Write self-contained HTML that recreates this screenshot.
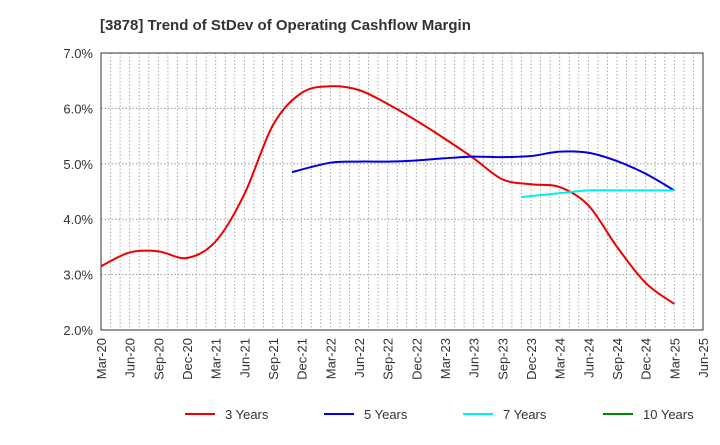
<!DOCTYPE html>
<html><head><meta charset="utf-8"><style>
body{margin:0;background:#fff;font-family:"Liberation Sans",sans-serif}
</style></head><body>
<svg id="c" width="720" height="440" xmlns="http://www.w3.org/2000/svg" font-family="Liberation Sans, sans-serif">
<text x="100" y="30" font-size="15" font-weight="bold" fill="#333">[3878]  Trend of StDev of Operating Cashflow Margin</text>
<g id="grid"></g><g id="axes"></g><g id="series"></g><g id="legend"></g>
</svg>
<script>
const xLabels=["Mar-20","Jun-20","Sep-20","Dec-20","Mar-21","Jun-21","Sep-21","Dec-21","Mar-22","Jun-22","Sep-22","Dec-22","Mar-23","Jun-23","Sep-23","Dec-23","Mar-24","Jun-24","Sep-24","Dec-24","Mar-25","Jun-25"];
const yTicks=[2,3,4,5,6,7];
const m3=[0,3,6,9,12,15,18,21,24,27,30,33,36,39,42,45,48,51,54,57,60];
const s3=[3.15,3.4,3.42,3.3,3.6,4.45,5.7,6.28,6.4,6.33,6.08,5.78,5.45,5.1,4.72,4.63,4.58,4.25,3.5,2.85,2.47];
const m5=[20,24,27,30,33,36,39,42,45,48,51,54,57,60];
const s5=[4.85,5.02,5.04,5.04,5.06,5.1,5.13,5.12,5.14,5.22,5.2,5.05,4.82,4.52];
const m7=[44,48,51,54,57,60];
const s7=[4.4,4.47,4.52,4.52,4.52,4.52];
const m10=[];
const s10=[];
const L=101,R=703,T=53,B=330;
const NS="http://www.w3.org/2000/svg";
const XM=m=>L+(R-L)*m/63, X=i=>XM(i*3), Y=v=>B-(v-2)/5*(B-T);
function mk(t,a,p){const e=document.createElementNS(NS,t);for(const k in a)e.setAttribute(k,a[k]);p.appendChild(e);return e;}
const g=document.getElementById('grid'),ax=document.getElementById('axes'),se=document.getElementById('series'),lg=document.getElementById('legend');
for(let m=1;m<63;m++){const x=XM(m);const l=mk('line',{x1:x,x2:x,y1:T,y2:B,stroke:'#aaa','stroke-dasharray':'1.5,2','stroke-width':1},g);

}
yTicks.forEach(v=>{const l=mk('line',{x1:L,x2:R,y1:Y(v),y2:Y(v),stroke:'#999','stroke-dasharray':'1.5,2'},g);


const t=mk('text',{x:L-8,y:Y(v)+5,'text-anchor':'end','font-size':13,fill:'#333'},ax);t.textContent=v.toFixed(1)+'%';

});
const fr=mk('rect',{x:L,y:T,width:R-L,height:B-T,fill:'none',stroke:'#333','stroke-width':1},ax);


xLabels.forEach((s,i)=>{const t=mk('text',{transform:`translate(${X(i)+5},${B+8}) rotate(-90)`,'text-anchor':'end','font-size':13,fill:'#333'},ax);t.textContent=s;

});
function path(ms,arr){const p=arr.map((v,i)=>[XM(ms[i]),Y(v)]);if(p.length<2)return '';
let d=`M${p[0][0]},${p[0][1]}`;for(let i=0;i<p.length-1;i++){const p0=p[i-1]||p[i],p1=p[i],p2=p[i+1],p3=p[i+2]||p2;
d+=` C${p1[0]+(p2[0]-p0[0])/6},${p1[1]+(p2[1]-p0[1])/6} ${p2[0]-(p3[0]-p1[0])/6},${p2[1]-(p3[1]-p1[1])/6} ${p2[0]},${p2[1]}`;}return d;}
const series=[[m3,s3,'#e00','3 Years',185],[m5,s5,'#00d','5 Years',324],[m7,s7,'#0ee','7 Years',463],[m10,s10,'#080','10 Years',603]];
series.forEach(([ms,a,c,n,lx])=>{const d=path(ms,a);if(d){const p=mk('path',{d,fill:'none',stroke:c,'stroke-width':2},se);

}
const l=mk('line',{x1:lx,x2:lx+30,y1:414,y2:414,stroke:c,'stroke-width':2},lg);


const t=mk('text',{x:lx+40,y:419,'font-size':13,fill:'#333'},lg);t.textContent=n;

});
</script>
</body></html>
